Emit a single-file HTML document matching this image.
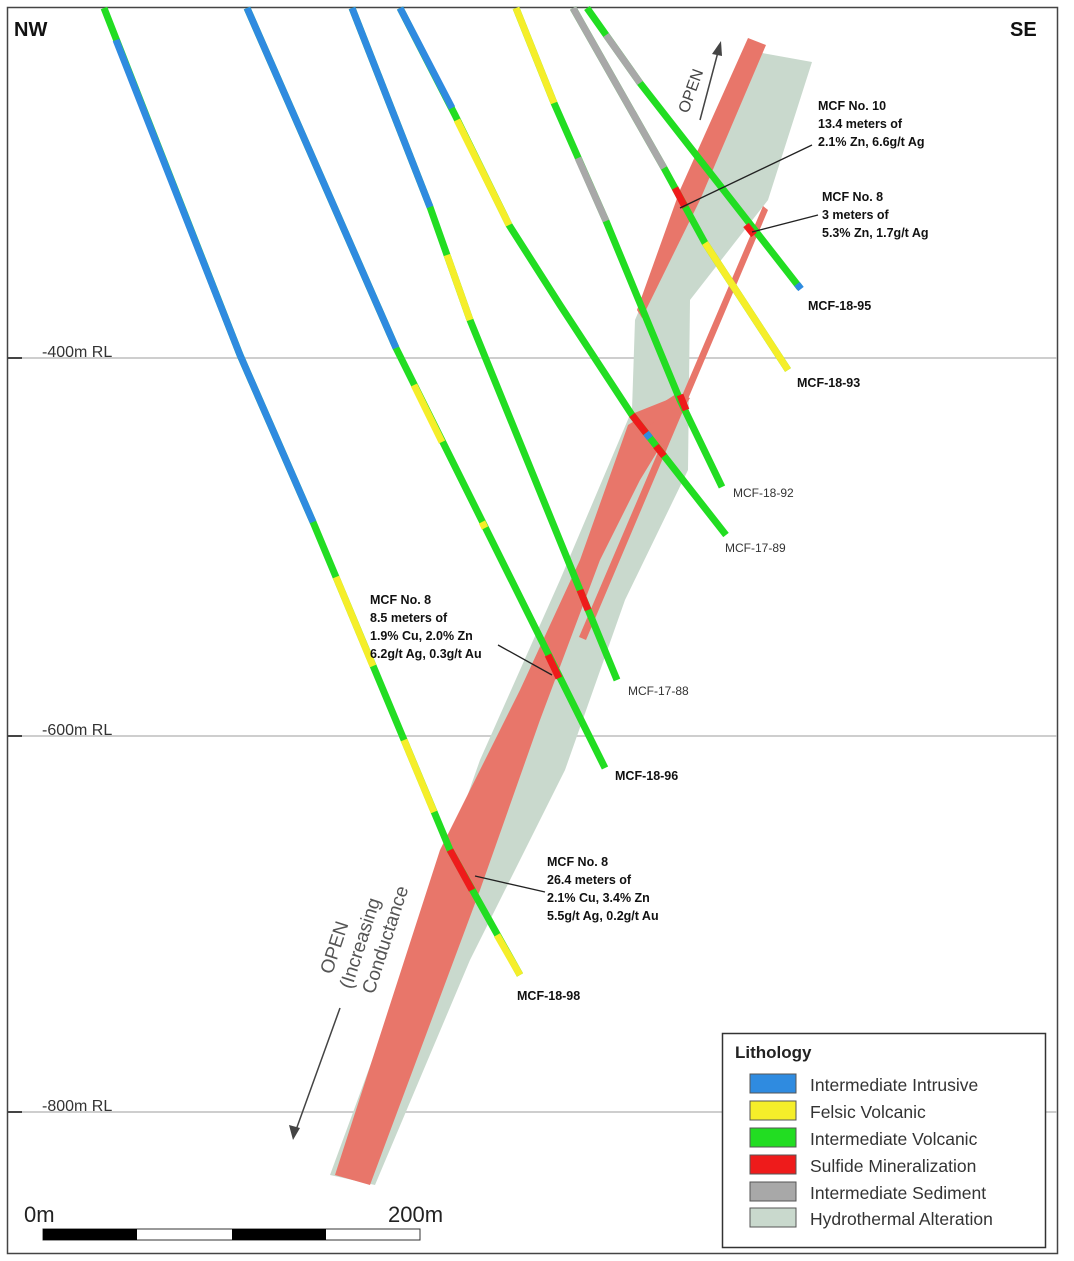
<!DOCTYPE html>
<html><head><meta charset="utf-8"><style>
html,body{margin:0;padding:0;background:#fff;}
svg{display:block;font-family:"Liberation Sans",sans-serif;}
.b{font-weight:bold;font-size:12.5px;fill:#111;}
.n{font-size:12px;fill:#333;}
.rl{font-size:16px;fill:#333;}
.lg{font-size:17.5px;fill:#333;}
</style></head><body>
<svg width="1074" height="1261" viewBox="0 0 1074 1261" xmlns="http://www.w3.org/2000/svg">
<rect x="0" y="0" width="1074" height="1261" fill="#fff"/>
<rect x="7.5" y="7.5" width="1050" height="1246" fill="none" stroke="#444" stroke-width="1.5"/>

<g stroke="#bdbdbd" stroke-width="1.5">
<line x1="8" y1="358" x2="1057" y2="358"/>
<line x1="8" y1="736" x2="1057" y2="736"/>
<line x1="8" y1="1112" x2="1057" y2="1112"/>
</g>
<g stroke="#444" stroke-width="2">
<line x1="8" y1="358" x2="22" y2="358"/><line x1="8" y1="736" x2="22" y2="736"/><line x1="8" y1="1112" x2="22" y2="1112"/>
</g>
<text x="42" y="357" class="rl">-400m RL</text>
<text x="42" y="735" class="rl">-600m RL</text>
<text x="42" y="1111" class="rl">-800m RL</text>

<polygon fill="#c9d9cd" points="745,50 812,62 768,200 690,300 688,470 625,600 565,770 470,960 375,1185 330,1175 420,930 480,760 560,580 632,410 635,320 690,190"/>

<g fill="#e8766a">
<polygon points="748,38 766,45 700,200 642,318 637,310 680,190"/>
<polygon points="676,394 690,398 640,480 600,560 540,720 480,890 370,1185 335,1175 440,850 520,690 580,560 628,425"/>
<polygon points="763,206 768,210 586,640 579,637"/>
<polygon points="632,414 682,394 680,406 645,428"/>
</g>

<g fill="none" stroke-width="7" stroke-linecap="butt" stroke-linejoin="round">
<polyline stroke="#22dd22" points="104,8 240,355 313,522 450,850 520,975"/>
<polyline stroke="#2f8be0" points="116,40 240,355 313,522"/>
<line stroke="#f5ee2a" x1="336" y1="577" x2="373" y2="666"/>
<line stroke="#f5ee2a" x1="404" y1="740" x2="434" y2="812"/>
<line stroke="#ee1b1b" x1="450" y1="850" x2="472" y2="890"/>
<line stroke="#f5ee2a" x1="497" y1="935" x2="520" y2="975"/>
<polyline stroke="#22dd22" points="247,8 396,348 605,768"/>
<line stroke="#2f8be0" x1="247" y1="8" x2="396" y2="348"/>
<line stroke="#f5ee2a" x1="414" y1="385" x2="442" y2="442"/>
<line stroke="#f5ee2a" x1="482" y1="522" x2="485" y2="528"/>
<line stroke="#ee1b1b" x1="548" y1="655" x2="559" y2="678"/>
<polyline stroke="#22dd22" points="352,8 430,207 470,320 580,590 617,680"/>
<line stroke="#2f8be0" x1="352" y1="8" x2="430" y2="207"/>
<line stroke="#f5ee2a" x1="447" y1="255" x2="470" y2="320"/>
<line stroke="#ee1b1b" x1="580" y1="590" x2="588" y2="610"/>
<polyline stroke="#22dd22" points="400,8 455,115 509,225 560,305 632,415 726,535"/>
<line stroke="#2f8be0" x1="400" y1="8" x2="452" y2="108"/>
<line stroke="#f5ee2a" x1="457" y1="120" x2="509" y2="225"/>
<line stroke="#ee1b1b" x1="632" y1="415" x2="646" y2="433"/>
<line stroke="#2f8be0" x1="646" y1="433" x2="650" y2="438"/>
<line stroke="#ee1b1b" x1="656" y1="446" x2="664" y2="456"/>
<polyline stroke="#22dd22" points="516,8 554,103 606,221 680,400 722,487"/>
<line stroke="#f5ee2a" x1="516" y1="8" x2="554" y2="103"/>
<line stroke="#a8a8a8" x1="578" y1="158" x2="606" y2="221"/>
<line stroke="#ee1b1b" x1="680" y1="395" x2="686" y2="410"/>
<polyline stroke="#22dd22" points="573,8 664,168 705,243 788,370"/>
<line stroke="#a8a8a8" x1="573" y1="8" x2="664" y2="168"/>
<line stroke="#ee1b1b" x1="675" y1="188" x2="685" y2="207"/>
<line stroke="#f5ee2a" x1="705" y1="243" x2="788" y2="370"/>
<polyline stroke="#22dd22" points="587,8 640,83 800,288"/>
<line stroke="#a8a8a8" x1="606" y1="35" x2="640" y2="83"/>
<line stroke="#ee1b1b" x1="746" y1="225" x2="754" y2="235"/>
<line stroke="#2f8be0" x1="797" y1="284" x2="801" y2="289"/>
</g>

<g stroke="#222" stroke-width="1.3">
<line x1="812" y1="145" x2="680" y2="208"/>
<line x1="818" y1="215" x2="752" y2="232"/>
<line x1="498" y1="645" x2="552" y2="675"/>
<line x1="545" y1="892" x2="475" y2="876"/>
</g>

<text class="b" x="818" y="110">MCF No. 10</text>
<text class="b" x="818" y="128">13.4 meters of</text>
<text class="b" x="818" y="146">2.1% Zn, 6.6g/t Ag</text>
<text class="b" x="822" y="201">MCF No. 8</text>
<text class="b" x="822" y="219">3 meters of</text>
<text class="b" x="822" y="237">5.3% Zn, 1.7g/t Ag</text>
<text class="b" x="370" y="604">MCF No. 8</text>
<text class="b" x="370" y="622">8.5 meters of</text>
<text class="b" x="370" y="640">1.9% Cu, 2.0% Zn</text>
<text class="b" x="370" y="658">6.2g/t Ag, 0.3g/t Au</text>
<text class="b" x="547" y="866">MCF No. 8</text>
<text class="b" x="547" y="884">26.4 meters of</text>
<text class="b" x="547" y="902">2.1% Cu, 3.4% Zn</text>
<text class="b" x="547" y="920">5.5g/t Ag, 0.2g/t Au</text>

<text class="b" x="808" y="310">MCF-18-95</text>
<text class="b" x="797" y="387">MCF-18-93</text>
<text class="n" x="733" y="497">MCF-18-92</text>
<text class="n" x="725" y="552">MCF-17-89</text>
<text class="n" x="628" y="695">MCF-17-88</text>
<text class="b" x="615" y="780">MCF-18-96</text>
<text class="b" x="517" y="1000">MCF-18-98</text>

<text x="14" y="36" font-size="20" font-weight="bold" fill="#111">NW</text>
<text x="1010" y="36" font-size="20" font-weight="bold" fill="#111">SE</text>

<text x="0" y="0" font-size="16" fill="#444" transform="translate(688,114) rotate(-70)">OPEN</text>
<line x1="700" y1="120" x2="718" y2="52" stroke="#444" stroke-width="1.5"/>
<polygon points="721,41 712,54 722,56" fill="#444"/>
<g font-size="19" fill="#555" transform="translate(332,975) rotate(-72)">
<text x="0" y="0">OPEN</text>
<text x="-8" y="23">(Increasing</text>
<text x="-6" y="46">Conductance</text>
</g>
<line x1="340" y1="1008" x2="296" y2="1130" stroke="#444" stroke-width="1.5"/>
<polygon points="293,1140 289,1125 300,1128" fill="#444"/>

<text x="24" y="1222" font-size="22" fill="#222">0m</text>
<text x="388" y="1222" font-size="22" fill="#222">200m</text>
<rect x="43" y="1229" width="377" height="11" fill="#fff" stroke="#333" stroke-width="1"/>
<rect x="43" y="1229" width="94" height="11" fill="#000"/>
<rect x="232" y="1229" width="94" height="11" fill="#000"/>

<rect x="722.5" y="1033.5" width="323" height="214" fill="#fff" stroke="#333" stroke-width="1.5"/>
<text x="735" y="1058" font-size="17" font-weight="bold" fill="#222">Lithology</text>
<g stroke="#555" stroke-width="1">
<rect x="750" y="1074" width="46" height="19" fill="#2f8be0"/>
<rect x="750" y="1101" width="46" height="19" fill="#f5ee2a"/>
<rect x="750" y="1128" width="46" height="19" fill="#22dd22"/>
<rect x="750" y="1155" width="46" height="19" fill="#ee1b1b"/>
<rect x="750" y="1182" width="46" height="19" fill="#a8a8a8"/>
<rect x="750" y="1208" width="46" height="19" fill="#c9d9cd"/>
</g>
<text class="lg" x="810" y="1091">Intermediate Intrusive</text>
<text class="lg" x="810" y="1118">Felsic Volcanic</text>
<text class="lg" x="810" y="1145">Intermediate Volcanic</text>
<text class="lg" x="810" y="1172">Sulfide Mineralization</text>
<text class="lg" x="810" y="1199">Intermediate Sediment</text>
<text class="lg" x="810" y="1225">Hydrothermal Alteration</text>
</svg>
</body></html>
